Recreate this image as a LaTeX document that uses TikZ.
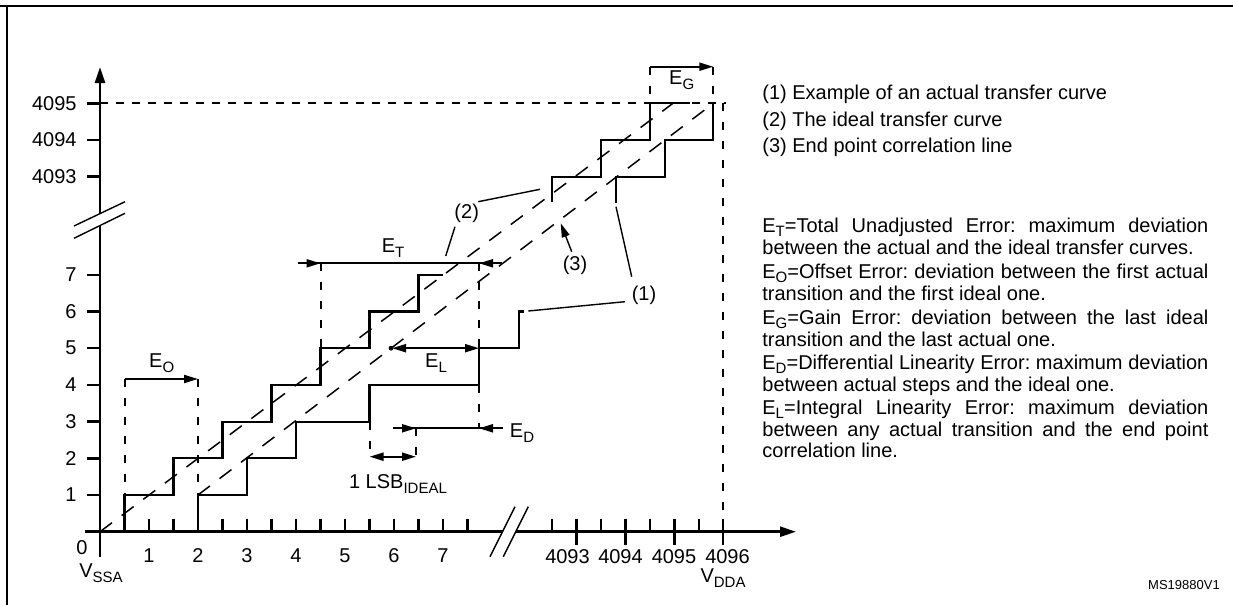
\documentclass[tikz,border=0pt]{standalone}
\usepackage{fontspec}
\setmainfont{Liberation Sans}
\usetikzlibrary{arrows.meta}
\newcommand\lsub[1]{\raisebox{-0.45ex}{\fontsize{7.5}{8}\selectfont #1}}
\newcommand\jline[1]{\makebox[223pt][s]{\frenchspacing #1}}
\begin{document}
\begin{tikzpicture}[x=0.5pt,y=-0.5pt,
  stair/.style={line width=1.05pt, line join=miter},
  axis/.style={line width=1.25pt},
  ddash/.style={line width=0.75pt, dash pattern=on 7.5pt off 6pt},
  vdash/.style={line width=1pt, dash pattern=on 4pt off 5.5pt},
  hdash/.style={line width=1pt, dash pattern=on 4pt off 4pt},
  dim/.style={line width=1pt},
  dimtip/.tip={Triangle[length=7pt,width=4pt]},
  axtip/.tip={Triangle[length=8pt,width=5pt]},
  leader/.style={line width=0.7pt},
  lbl/.style={font=\fontsize{10}{12}\selectfont, inner sep=0pt},
  pline/.style={font=\fontsize{10}{12}\selectfont\frenchspacing, inner sep=0pt, anchor=base west},
]
\useasboundingbox (0,0) rectangle (1233,605);
% frame
\draw[line width=1.2pt] (0,6.2) -- (1233,6.2);
\draw[line width=0.8pt] (7,6.2) -- (7,605);
% y axis
\draw[axis] (100,556.7) -- (100,226);
\draw[axis,-axtip] (100,213.6) -- (100,67);
\draw[leader] (74,226) -- (125,201.7);
\draw[leader] (74,238.3) -- (125,213.3);
\foreach \yy/\t in {103.3/4095,140/4094,176.7/4093,274.8/7,311.5/6,348.2/5,384.9/4,421.6/3,458.3/2,495/1}{
  \draw[axis] (87,\yy) -- (100,\yy);
  \node[lbl,anchor=east] at (77,\yy) {\t};
}
\node[lbl] (zero) at (82,548) {0};
% x axis
\draw[axis] (85,531.7) -- (502.5,531.7);
\draw[axis,-axtip] (515.8,531.7) -- (796,531.7);
\draw[leader] (490,556.7) -- (515,506.7);
\draw[leader] (503.3,556.7) -- (528.3,506.7);
\foreach \k in {1,...,7}{
  \draw[axis] ({100+49*\k},518.7) -- ({100+49*\k},531.7);
  \node[lbl] at ({100+49*\k},556) {\k};
}
\foreach \k in {0,...,7}{
  \draw[axis] ({124.5+49*\k},518.7) -- ({124.5+49*\k},531.7);
}
\foreach \xx in {552,601,650,699}{ \draw[axis] (\xx,518.7) -- (\xx,531.7); }
\foreach \xx in {576.7,625.7,674.7,723}{ \draw[axis] (\xx,518.7) -- (\xx,544.7); }
\node[lbl] (vssa) at (101,573) {V\lsub{SSA}};
\node[lbl] at (567.5,556.7) {4093};
\node[lbl] at (620.5,556.7) {4094};
\node[lbl] at (674,556.7) {4095};
\node[lbl] at (727.5,556.7) {4096};
\node[lbl] (vdda) at (723,578) {V\lsub{DDA}};
% dashed references
\draw[hdash] (100,103.3) -- (726,103.3);
\draw[vdash] (723,103.3) -- (723,531.7);
\draw[ddash] (100,531.7) -- (673,103.3);
\draw[ddash] (198,495) -- (713.3,103.3);
% staircases
\draw[stair] (124.5,531.7) |- (173.5,495) |- (222.5,458.3) |- (271.5,421.6) |- (320.5,384.9) |- (369.5,348.2) |- (418.5,311.5) |- (443,274.8);
\draw[stair] (198,531.7) |- (247,495) |- (296,458.3) |- (369.5,421.6) |- (479,384.9) |- (519,348.2) |- (523.5,311.5);
\draw[stair] (552,201.7) |- (601,176.7) |- (650,140) |- (690,103.3);
\draw[stair] (616,202.7) |- (665,176.7) |- (713.3,140) -- (713.3,103.3);
% E_G
\draw[vdash] (650,66.7) -- (650,103.3);
\draw[vdash] (713.3,66.7) -- (713.3,103.3);
\draw[dim,-dimtip] (650,66.7) -- (713.3,66.7);
\node[lbl] (eg) at (681.7,80) {E\lsub{G}};
% E_O
\draw[vdash] (124.5,379) -- (124.5,495);
\draw[vdash] (198,379) -- (198,495);
\draw[dim,-dimtip] (124.5,379) -- (198,379);
\node[lbl] (eo) at (161.7,363.3) {E\lsub{O}};
% E_T
\draw[dim] (298,263.3) -- (501.7,263.3);
\draw[dim,-dimtip] (298,263.3) -- (320.5,263.3);
\draw[dim,-dimtip] (501.7,263.3) -- (479,263.3);
\draw[vdash] (320.5,263.3) -- (320.5,348.2);
\draw[vdash] (479,263.3) -- (479,348.2);
\draw[vdash] (479,384.9) -- (479,428.3);
\node[lbl] (et) at (393,248) {E\lsub{T}};
% E_L
\fill (391,348.2) circle (1.2pt);
\draw[dim,dimtip-dimtip] (392,348.2) -- (479,348.2);
\node[lbl] (el) at (436,363) {E\lsub{L}};
% E_D
\draw[dim] (393.3,428.3) -- (502.7,428.3);
\draw[dim,-dimtip] (393.3,428.3) -- (416,428.3);
\draw[dim,-dimtip] (502.7,428.3) -- (479,428.3);
\node[lbl] (ed) at (522,433) {E\lsub{D}};
% 1 LSB
\draw[vdash] (369.5,421.6) -- (369.5,456.7);
\draw[vdash] (416,428.3) -- (416,456.7);
\draw[dim,dimtip-dimtip] (369.5,456.7) -- (416,456.7);
\node[lbl] (lsb) at (398,484) {1 LSB\lsub{IDEAL}};
% leaders
\node[lbl] (l2) at (466.7,213) {(2)};
\draw[leader] (478.3,201.7) -- (540,189.3);
\draw[leader] (455,226.7) -- (445.7,256);
\node[lbl] (l1) at (644,295) {(1)};
\draw[leader] (631.7,276.7) -- (616,206.7);
\draw[leader] (625,301.7) -- (528.3,311);
\node[lbl] (l3) at (575,265) {(3)};
\draw[leader,-{Triangle[length=7pt,width=4pt]}] (571.7,251.7) -- (560.7,223.3);
% legend
\node[pline] at (762,99) {(1) Example of an actual transfer curve};
\node[pline] at (762,126) {(2) The ideal transfer curve};
\node[pline] at (762,152) {(3) End point correlation line};
% definitions
\node[pline] at (762,232) {\jline{E\lsub{T}=Total Unadjusted Error: maximum deviation}};
\node[pline] at (762,254) {between the actual and the ideal transfer curves.};
\node[pline] at (762,278) {\jline{E\lsub{O}=Offset Error: deviation between the first actual}};
\node[pline] at (762,300) {transition and the first ideal one.};
\node[pline] at (762,324) {\jline{E\lsub{G}=Gain Error: deviation between the last ideal}};
\node[pline] at (762,346) {transition and the last actual one.};
\node[pline] at (762,369) {\jline{E\lsub{D}=Differential Linearity Error: maximum deviation}};
\node[pline] at (762,391) {between actual steps and the ideal one.};
\node[pline] at (762,414) {\jline{E\lsub{L}=Integral Linearity Error: maximum deviation}};
\node[pline] at (762,436) {\jline{between any actual transition and the end point}};
\node[pline] at (762,457) {correlation line.};
\node[font=\fontsize{6.5}{8}\selectfont, inner sep=0pt] (ms) at (1184,585) {MS19880V1};
\end{tikzpicture}
\end{document}
